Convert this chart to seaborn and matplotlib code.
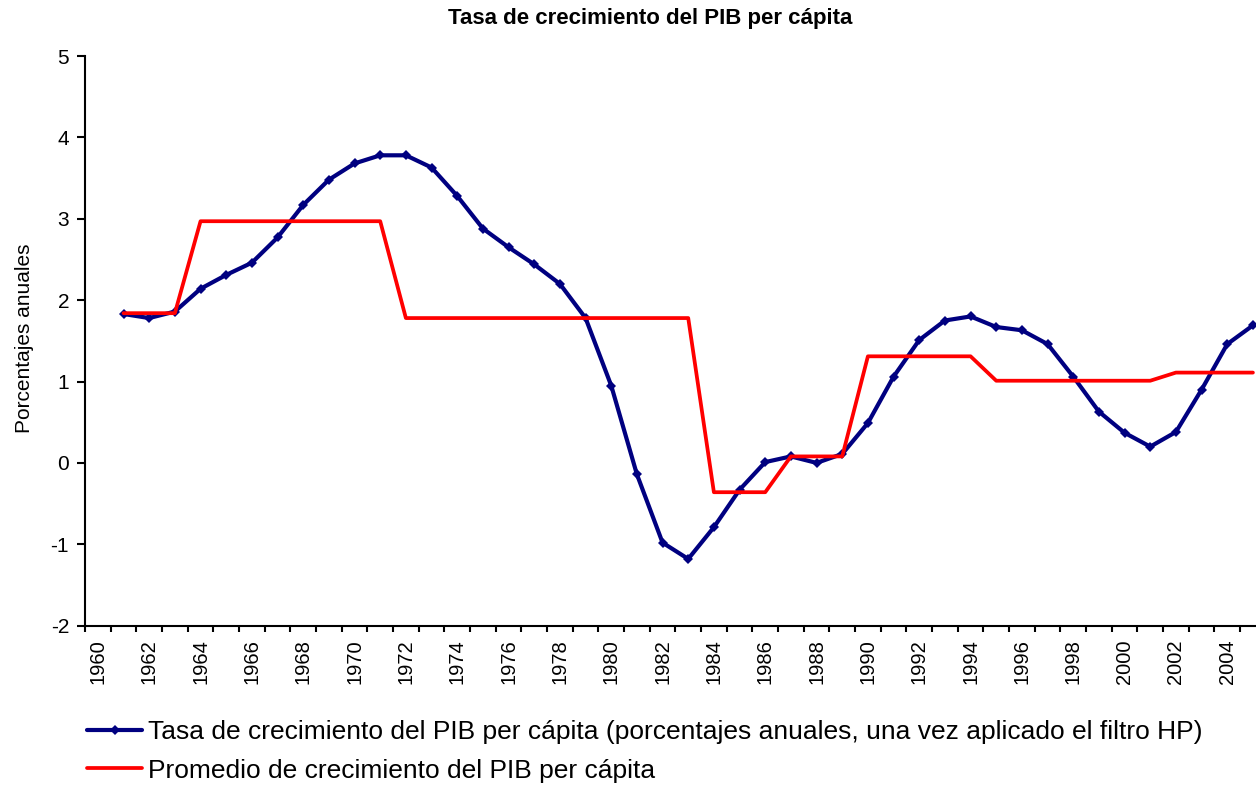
import matplotlib
matplotlib.use("Agg")
import matplotlib.pyplot as plt
from matplotlib.ticker import FixedLocator
import seaborn as sns
import pandas as pd

# ---- data ----
years = list(range(1961, 2006))

# growth rate of GDP per capita after HP filter (%)
tasa_hp = [1.83, 1.78, 1.86, 2.14, 2.31, 2.46, 2.77, 3.17, 3.48, 3.68,
           3.78, 3.78, 3.63, 3.28, 2.88, 2.65, 2.44, 2.20, 1.78, 0.95,
           -0.14, -0.98, -1.18, -0.79, -0.33, 0.01, 0.08, 0.00, 0.11, 0.49,
           1.06, 1.51, 1.75, 1.80, 1.67, 1.63, 1.46, 1.06, 0.63, 0.37,
           0.20, 0.38, 0.90, 1.46, 1.69]

# average growth by period (%)
promedio = [1.84, 1.84, 1.84,
            2.97, 2.97, 2.97, 2.97, 2.97, 2.97, 2.97, 2.97,
            1.78, 1.78, 1.78, 1.78, 1.78, 1.78, 1.78, 1.78, 1.78, 1.78, 1.78, 1.78,
            -0.36, -0.36, -0.36,
            0.08, 0.08, 0.08,
            1.31, 1.31, 1.31, 1.31, 1.31,
            1.01, 1.01, 1.01, 1.01, 1.01, 1.01, 1.01,
            1.11, 1.11, 1.11, 1.11]

label_tasa = "Tasa de crecimiento del PIB per cápita (porcentajes anuales, una vez aplicado el filtro HP)"
label_prom = "Promedio de crecimiento del PIB per cápita"

year_ticks = list(range(1960, 2005, 2))
y_ticks = [-2, -1, 0, 1, 2, 3, 4, 5]

df = pd.DataFrame({"year": years, "tasa": tasa_hp, "promedio": promedio})

sns.set_style("ticks")
plt.rcParams["font.family"] = ["Liberation Sans", "DejaVu Sans"]
plt.rcParams["text.color"] = "black"
plt.rcParams["xtick.color"] = "black"
plt.rcParams["ytick.color"] = "black"

fig = plt.figure(figsize=(12.56, 7.88), dpi=100)
ax = fig.add_axes([0.0677, 0.206, 0.9323, 0.7229])

sns.lineplot(data=df, x="year", y="tasa", ax=ax, color="#000080", linewidth=3.0,
             marker="D", markersize=5, markeredgewidth=0, label=label_tasa)
sns.lineplot(data=df, x="year", y="promedio", ax=ax, color="#FF0000", linewidth=2.7,
             label=label_prom)

ax.set_xlim(1959.5, 2005.12)
ax.set_ylim(-2, 5)
ax.set_xlabel("")
ax.set_ylabel("")

# category style axis: labels centred on years, ticks between years
ax.xaxis.set_major_locator(FixedLocator(year_ticks))
ax.set_xticklabels([str(y) for y in year_ticks], rotation=90, fontsize=14.5)
ax.xaxis.set_minor_locator(FixedLocator([y + 0.5 for y in range(1959, 2005)]))
ax.tick_params(axis="x", which="major", length=0, pad=10)
ax.tick_params(axis="x", which="minor", length=4, width=1.5, direction="out", color="black")

ax.set_yticks(y_ticks)
ax.set_yticklabels([str(v) for v in y_ticks], fontsize=15)
ax.tick_params(axis="y", length=5.5, width=1.5, direction="out", pad=6, color="black")

for side in ["top", "right"]:
    ax.spines[side].set_visible(False)
for side in ["left", "bottom"]:
    ax.spines[side].set_color("black")
    ax.spines[side].set_linewidth(1.5)

fig.suptitle("Tasa de crecimiento del PIB per cápita", x=0.5175, y=0.976,
             va="center", fontsize=16, fontweight="bold", color="black")
fig.text(25 / 1256, 1 - 338 / 788, "Porcentajes anuales", rotation=90,
         ha="center", va="center", fontsize=15, color="black")

handles, labels = ax.get_legend_handles_labels()
ax.get_legend().remove()
leg = fig.legend(handles, labels, loc="upper left", bbox_to_anchor=(87 / 1256, 1 - 720 / 788),
                 frameon=False, fontsize=19, handlelength=2.1, handletextpad=0.22,
                 labelspacing=0.55, borderpad=0, borderaxespad=0)
for t in leg.get_texts():
    t.set_color("black")

fig.savefig("out.png", dpi=100, facecolor="white")
